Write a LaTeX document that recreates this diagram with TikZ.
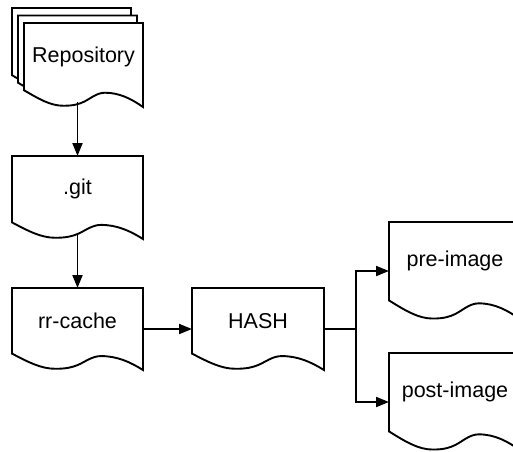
\documentclass[tikz,border=0pt]{standalone}
\usepackage{fontspec}
\setmainfont{Liberation Sans}
\usetikzlibrary{arrows.meta,backgrounds,calc}

\tikzset{
  docnode/.style={draw=none, inner sep=0pt, outer sep=0pt,
    font=\fontsize{21.5}{25}\selectfont, text=black},
  docline/.style={draw=black, fill=white, line width=1.9pt, line join=miter},
  link/.style={draw=black, line width=1.9pt},
  flow/.style={link, -{Triangle[length=13pt,width=10pt]}},
}

% Document outline around a node: the node is the upper 80% of the page,
% the wavy bottom edge hangs below it. Defines <name>-east, <name>-west
% (mid-height of the page sides) and <name>-wave (middle of the wave).
\newcommand\docoutline[1]{%
  \path[docline] let \p1=(#1.north west), \p2=(#1.south east),
      \n1={\x2-\x1}, \n2={(\y1-\y2)/0.8} in
    (\p1) -- (\x2,\y1) -- (\x2,{\y1-0.5*\n2}) coordinate (#1-east)
    -- (\x2,{\y1-\n2})
    .. controls ({\x1+0.9*\n1},{\y1-0.9*\n2}) and ({\x1+0.8*\n1},{\y1-0.83*\n2}) ..
       ({\x1+0.68*\n1},{\y1-0.83*\n2})
    .. controls ({\x1+0.61*\n1},{\y1-0.83*\n2}) and ({\x1+0.56*\n1},{\y1-0.9*\n2}) ..
       ({\x1+0.5*\n1},{\y1-0.94*\n2}) coordinate (#1-wave)
    .. controls ({\x1+0.46*\n1},{\y1-0.965*\n2}) and ({\x1+0.42*\n1},{\y1-0.985*\n2}) ..
       ({\x1+0.33*\n1},{\y1-0.985*\n2})
    .. controls ({\x1+0.22*\n1},{\y1-0.985*\n2}) and ({\x1+0.12*\n1},{\y1-0.9*\n2}) ..
       (\x1,\y2)
    -- (\x1,{\y1-0.5*\n2}) coordinate (#1-west) -- cycle;
}

\begin{document}
\begin{tikzpicture}[x=1pt,y=-1pt]
\useasboundingbox (0,0) rectangle (513,451);
\clip (0,0) rectangle (513,451);

% pages (text part of each page)
\node[docnode, minimum width=119pt, minimum height=67.2pt] (repo3) at (71.5,41.6) {};
\node[docnode, minimum width=119pt, minimum height=67.2pt] (repo2) at (77.5,49.1) {};
\node[docnode, minimum width=119pt, minimum height=67.2pt] (repo) at (83.5,56.6) {Repository};
\node[docnode, minimum width=131pt, minimum height=66.4pt] (git) at (77.5,189.2) {.git};
\node[docnode, minimum width=131pt, minimum height=65.6pt] (rr) at (77.5,320.8) {rr-cache};
\node[docnode, minimum width=132pt, minimum height=65.6pt] (hash) at (258,320.8) {HASH};
\node[docnode, minimum width=132pt, minimum height=78.4pt] (pre) at (455,261.2) {pre-image};
\node[docnode, minimum width=132pt, minimum height=78.4pt] (post) at (455,392.2) {post-image};

% page outlines behind the texts, back pages of the stack first
\begin{scope}[on background layer]
  \clip (0,0) rectangle (513,451);
  \docoutline{repo3}
  \docoutline{repo2}
  \docoutline{repo}
  \docoutline{git}
  \docoutline{rr}
  \docoutline{hash}
  \docoutline{pre}
  \docoutline{post}
\end{scope}

% connectors
\draw[flow] (git.north |- repo-wave) -- (git.north);
\draw[flow] (git-wave) -- (rr.north);
\draw[flow] (rr-east) -- (hash-west);
\draw[link] (hash-east) -- ++(32,0) coordinate (fork);
\draw[flow] (fork) |- (pre-west);
\draw[flow] (fork) |- (post-west);
\end{tikzpicture}
\end{document}
